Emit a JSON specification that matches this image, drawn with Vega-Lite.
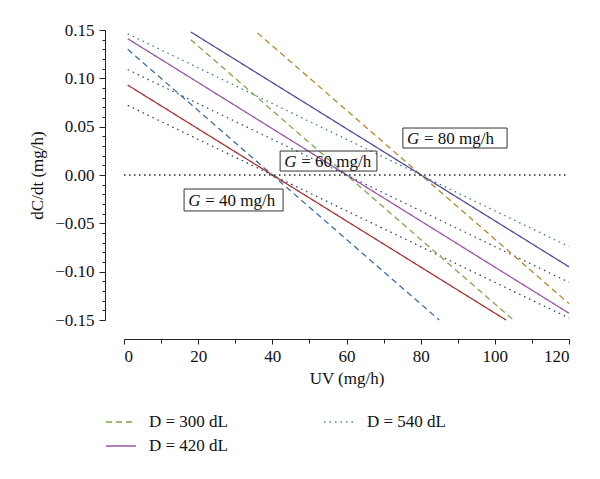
{
  "$schema": "https://vega.github.io/schema/vega-lite/v6.json",
  "width": 445,
  "height": 290,
  "autosize": {"type": "none"},
  "padding": {"left": 124, "top": 30, "right": 31, "bottom": 159},
  "background": "white",
  "config": {
    "font": "Liberation Serif",
    "view": {"stroke": null},
    "axis": {"grid": false, "domainColor": "#222222", "tickColor": "#222222", "labelColor": "#111111", "titleColor": "#111111", "labelFont": "Liberation Serif", "titleFont": "Liberation Serif", "labelFontSize": 17, "titleFontSize": 17, "titleFontWeight": "normal", "domainWidth": 1, "tickWidth": 1}
  },
  "datasets": {
    "lines": [
      {"series": "40-300", "D": "D = 300 dL", "UV": 1, "val": 0.130},
      {"series": "40-300", "D": "D = 300 dL", "UV": 85, "val": -0.150},
      {"series": "40-420", "D": "D = 420 dL", "UV": 1, "val": 0.093},
      {"series": "40-420", "D": "D = 420 dL", "UV": 103, "val": -0.150},
      {"series": "40-540", "D": "D = 540 dL", "UV": 1, "val": 0.072},
      {"series": "40-540", "D": "D = 540 dL", "UV": 120, "val": -0.148},
      {"series": "60-300", "D": "D = 300 dL", "UV": 18, "val": 0.140},
      {"series": "60-300", "D": "D = 300 dL", "UV": 105, "val": -0.150},
      {"series": "60-420", "D": "D = 420 dL", "UV": 1, "val": 0.141},
      {"series": "60-420", "D": "D = 420 dL", "UV": 120, "val": -0.143},
      {"series": "60-540", "D": "D = 540 dL", "UV": 1, "val": 0.109},
      {"series": "60-540", "D": "D = 540 dL", "UV": 120, "val": -0.111},
      {"series": "80-300", "D": "D = 300 dL", "UV": 36, "val": 0.147},
      {"series": "80-300", "D": "D = 300 dL", "UV": 120, "val": -0.133},
      {"series": "80-420", "D": "D = 420 dL", "UV": 18, "val": 0.148},
      {"series": "80-420", "D": "D = 420 dL", "UV": 120, "val": -0.095},
      {"series": "80-540", "D": "D = 540 dL", "UV": 1, "val": 0.146},
      {"series": "80-540", "D": "D = 540 dL", "UV": 120, "val": -0.074}
    ],
    "zero": [
      {"UV": 0, "UV2": 120, "val": 0}
    ],
    "boxes": [
      {"UV": 16.2, "UV2": 42.9, "val": -0.0145, "val2": -0.0372},
      {"UV": 42.1, "UV2": 68.2, "val": 0.0248, "val2": 0.0041},
      {"UV": 75.2, "UV2": 103.3, "val": 0.0486, "val2": 0.0279}
    ],
    "labels": [
      {"G": "G", "rest": "= 40 mg/h", "UV": 17.3, "val": -0.0258},
      {"G": "G", "rest": "= 60 mg/h", "UV": 43.2, "val": 0.0145},
      {"G": "G", "rest": "= 80 mg/h", "UV": 76.3, "val": 0.0383}
    ]
  },
  "encoding": {
    "x": {
      "field": "UV", "type": "quantitative",
      "scale": {"domain": [0, 120], "nice": false, "zero": false},
      "axis": {
        "values": [0, 10, 20, 30, 40, 50, 60, 70, 80, 90, 100, 110, 120],
        "labelExpr": "datum.value % 20 == 0 ? datum.label : ''",
        "tickSize": {"condition": {"test": "datum.value % 20 == 0", "value": 5}, "value": 4},
        "labelOverlap": false,
        "offset": 19,
        "labelPadding": 4,
        "title": "UV (mg/h)",
        "titlePadding": 6
      }
    },
    "y": {
      "field": "val", "type": "quantitative",
      "scale": {"domain": [-0.15, 0.15], "nice": false, "zero": false},
      "axis": {
        "values": [-0.15, -0.14, -0.13, -0.12, -0.11, -0.1, -0.09, -0.08, -0.07, -0.06, -0.05, -0.04, -0.03, -0.02, -0.01, 0, 0.01, 0.02, 0.03, 0.04, 0.05, 0.06, 0.07, 0.08, 0.09, 0.1, 0.11, 0.12, 0.13, 0.14, 0.15],
        "labelExpr": "abs(round(datum.value*100)) % 5 == 0 ? format(datum.value, '.2f') : ''",
        "tickSize": {"condition": {"test": "abs(round(datum.value*100)) % 5 == 0", "value": 6}, "value": 3},
        "labelOverlap": false,
        "offset": 19,
        "labelPadding": 5,
        "title": "dC/dt (mg/h)",
        "titlePadding": 8
      }
    }
  },
  "layer": [
    {
      "data": {"name": "lines"},
      "mark": {"type": "line", "strokeWidth": 1.3, "clip": false},
      "encoding": {
        "color": {
          "field": "series", "type": "nominal",
          "scale": {
            "domain": ["40-300", "40-420", "40-540", "60-300", "60-420", "60-540", "80-300", "80-420", "80-540"],
            "range": ["#3b6ea5", "#a83232", "#2e4160", "#7aab45", "#9b55a8", "#34506e", "#b8862e", "#4d4d9c", "#3f7f73"]
          },
          "legend": null
        },
        "strokeDash": {
          "field": "D", "type": "nominal",
          "scale": {
            "domain": ["D = 300 dL", "D = 420 dL", "D = 540 dL"],
            "range": [[6, 4], [1, 0], [1.5, 4]]
          },
          "legend": {
            "orient": "none", "legendX": -19, "legendY": 376,
            "columns": 2, "columnPadding": 93, "rowPadding": -7,
            "symbolType": "stroke", "symbolSize": 900, "symbolStrokeWidth": 1.3,
            "labelFont": "Liberation Serif", "labelFontSize": 17, "labelOffset": 12, "labelColor": "#111111",
            "title": null,
            "encode": {"symbols": {"update": {"stroke": {"signal": "datum.value == 'D = 300 dL' ? '#7aab45' : datum.value == 'D = 420 dL' ? '#9b55a8' : '#4a8a94'"}}}}
          }
        }
      }
    },
    {
      "data": {"name": "zero"},
      "mark": {"type": "rule", "strokeDash": [1.5, 3.5], "strokeWidth": 1.5, "color": "#222222"},
      "encoding": {
        "x2": {"field": "UV2"}
      }
    },
    {
      "data": {"name": "boxes"},
      "mark": {"type": "rect", "fill": null, "fillOpacity": 0, "stroke": "#333333", "strokeWidth": 1},
      "encoding": {
        "x2": {"field": "UV2"},
        "y2": {"field": "val2"}
      }
    },
    {
      "data": {"name": "labels"},
      "mark": {"type": "text", "align": "left", "baseline": "middle", "fontStyle": "italic", "fontSize": 17, "font": "Liberation Serif", "color": "#111111", "dy": 1},
      "encoding": {
        "text": {"field": "G"}
      }
    },
    {
      "data": {"name": "labels"},
      "mark": {"type": "text", "align": "left", "baseline": "middle", "fontSize": 17, "font": "Liberation Serif", "color": "#111111", "dx": 17, "dy": 1},
      "encoding": {
        "text": {"field": "rest"}
      }
    }
  ]
}
